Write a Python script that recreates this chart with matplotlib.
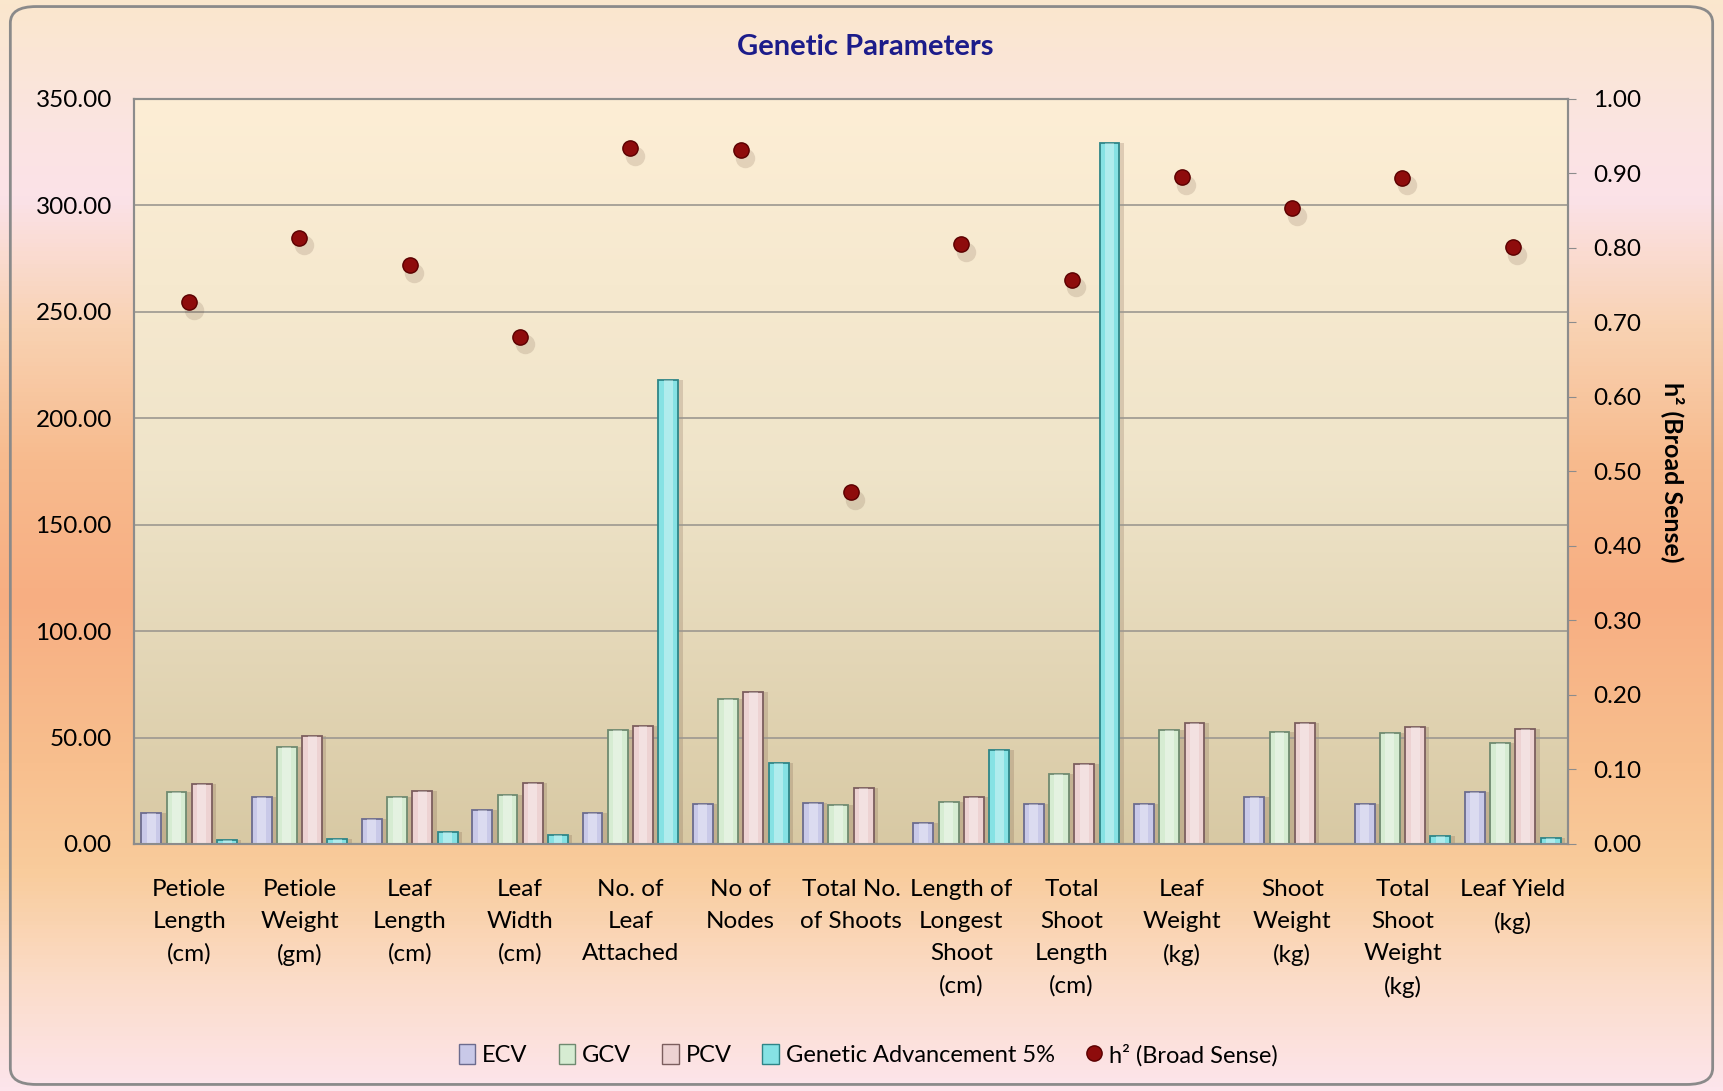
import numpy as np
import matplotlib
matplotlib.use("Agg")
import matplotlib.pyplot as plt
from matplotlib.colors import LinearSegmentedColormap
from matplotlib.patches import Patch, FancyBboxPatch
from matplotlib.lines import Line2D

plt.rcParams['font.family'] = ['Lato', 'DejaVu Sans']

# data
traits = ["Petiole\nLength\n(cm)", "Petiole\nWeight\n(gm)", "Leaf\nLength\n(cm)",
          "Leaf\nWidth\n(cm)", "No. of\nLeaf\nAttached", "No of\nNodes",
          "Total No.\nof Shoots", "Length of\nLongest\nShoot\n(cm)",
          "Total\nShoot\nLength\n(cm)", "Leaf\nWeight\n(kg)", "Shoot\nWeight\n(kg)",
          "Total\nShoot\nWeight\n(kg)", "Leaf Yield\n(kg)"]
ecv = [14.7, 22.2, 11.7, 16.0, 14.7, 18.8, 19.1, 9.7, 18.9, 18.9, 22.2, 18.6, 24.3]
gcv = [24.3, 45.7, 21.9, 23.0, 53.6, 68.1, 18.2, 19.9, 32.9, 53.6, 52.5, 52.0, 47.6]
pcv = [28.0, 50.8, 24.9, 28.5, 55.5, 71.2, 26.2, 22.2, 37.6, 56.7, 56.7, 55.1, 53.9]
gen_adv = [1.9, 2.2, 5.8, 4.1, 218.0, 38.2, 0.0, 44.2, 329.3, 0.0, 0.0, 3.6, 3.0]
h2 = [0.727, 0.814, 0.777, 0.681, 0.934, 0.931, 0.472, 0.805, 0.757, 0.895,
      0.853, 0.894, 0.801]

series = [("ECV", ecv, "#c9c9e8", "#6c6c8e"),
          ("GCV", gcv, "#d6ecd2", "#6f8a70"),
          ("PCV", pcv, "#edd2d2", "#7c5e5e"),
          ("Genetic Advancement 5%", gen_adv, "#86e2e4", "#2f8587")]

fig = plt.figure(figsize=(17.23, 10.91), dpi=100)

# figure background gradient
bg = fig.add_axes([0, 0, 1, 1], zorder=-10)
bg_cmap = LinearSegmentedColormap.from_list("bg", [
    (0.0, "#fae7cd"), (0.12, "#fbe4e2"), (0.18, "#fbe2e8"), (0.30, "#f9d2b2"),
    (0.42, "#f7bb8e"), (0.55, "#f7ae82"), (0.70, "#f8bf8e"), (0.80, "#f9cc9c"),
    (0.90, "#fbdcc8"), (1.0, "#fde5ec")])
bg.imshow(np.linspace(0, 1, 256).reshape(-1, 1), aspect="auto", cmap=bg_cmap,
          extent=[0, 1, 0, 1], origin="upper")
bg.set_xlim(0, 1)
bg.set_ylim(0, 1)
bg.axis("off")
bg.add_patch(FancyBboxPatch((0.006, 0.006), 0.988, 0.988,
                            boxstyle="round,pad=0,rounding_size=0.015",
                            fill=False, edgecolor="#8a8a8a", linewidth=2.0,
                            transform=bg.transAxes))

ax = fig.add_axes([0.0778, 0.2264, 0.8322, 0.6829])
x = np.arange(len(traits))
ax.set_xlim(-0.5, len(traits) - 0.5)
ax.set_ylim(0, 350)

# plot area gradient
pa_cmap = LinearSegmentedColormap.from_list("pa", ["#fdeed5", "#efe4c9", "#d8c9a4"])
ax.imshow(np.linspace(0, 1, 256).reshape(-1, 1), aspect="auto", cmap=pa_cmap,
          extent=[-0.5, len(traits) - 0.5, 0, 350], origin="upper", zorder=0)

ax.set_yticks(np.arange(0, 351, 50))
ax.set_yticklabels([f"{v:.2f}" for v in np.arange(0, 351, 50)])
ax.grid(axis="y", color="#9c9890", linewidth=1.2, zorder=1)
ax.set_axisbelow(False)

step = 0.229
bw = 0.18
for i, (name, vals, fc, ec) in enumerate(series):
    pos = x + (i - 1.5) * step
    # soft shadow
    ax.bar(pos + 0.04, vals, width=bw, color="#6a4a3a", alpha=0.2, zorder=2,
           linewidth=0)
    ax.bar(pos, vals, width=bw, color=fc, edgecolor=ec, linewidth=1.3, zorder=3)
    ax.bar(pos, vals, width=bw * 0.45, color="white", alpha=0.35, linewidth=0,
           zorder=4)

ax.set_xticks(x)
ax.set_xticklabels(traits, fontsize=17.5, linespacing=1.65, va="top")
ax.tick_params(axis="x", length=0, pad=25)
ax.tick_params(axis="y", length=0, pad=16, labelsize=17.5)
for s in ax.spines.values():
    s.set_color("#8c8c8c")
    s.set_linewidth(1.5)

ax2 = ax.twinx()
ax2.set_ylim(0, 1)
ax2.set_yticks(np.arange(0, 1.01, 0.1))
ax2.set_yticklabels([f"{v:.2f}" for v in np.arange(0, 1.01, 0.1)])
ax2.tick_params(axis="y", length=6, color="#8c8c8c", pad=12, labelsize=17.5)
for s in ax2.spines.values():
    s.set_color("#8c8c8c")
    s.set_linewidth(1.5)
ax2.plot(x + 0.04, np.array(h2) - 0.01, "o", color="#5a3a2a", alpha=0.15,
         markersize=14, markeredgewidth=0, zorder=5)
ax2.plot(x, h2, "o", color="#8e0c0c", markeredgecolor="#5a0000",
         markersize=11, zorder=6)

fig.text(0.502, 0.957, "Genetic Parameters", ha="center", va="center",
         fontsize=21, fontweight="bold", color="#1c1c8a")
fig.text(0.971, 0.567, "h² (Broad Sense)", ha="center", va="center",
         rotation=270, fontsize=18, fontweight="bold")

handles = [Patch(facecolor=fc, edgecolor=ec, label=name) for name, _, fc, ec in series]
handles.append(Line2D([], [], marker="o", linestyle="none", color="#8e0c0c",
                      markeredgecolor="#5a0000", markersize=11,
                      label="h² (Broad Sense)"))
fig.legend(handles=handles, loc="center", bbox_to_anchor=(0.504, 0.033), ncol=5,
           frameon=False, fontsize=17, handlelength=0.7, handleheight=0.9,
           handletextpad=0.3, columnspacing=1.3)

fig.savefig("out.png", dpi=100)
